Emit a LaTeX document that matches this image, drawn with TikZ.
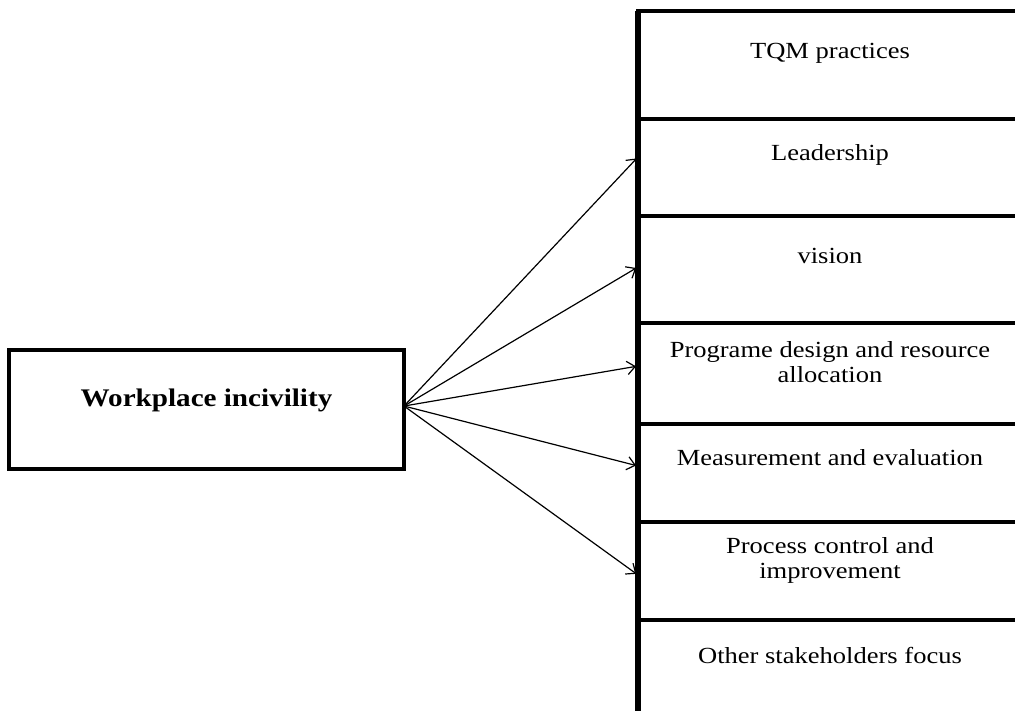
\documentclass[tikz,border=0pt]{standalone}
\usepackage{fontspec}
\setmainfont{Liberation Serif}[FakeStretch=1.15]
\usetikzlibrary{arrows.meta,calc}
\begin{document}
\begin{tikzpicture}[x=0.75pt,y=-0.75pt,
  cell/.style={draw, line width=2.6pt, outer sep=0pt, inner sep=0pt,
    minimum width=288pt, anchor=north west},
  txt/.style={align=center, inner sep=0pt, font=\fontsize{17.3}{18.75}\selectfont},
  mainbox/.style={draw, line width=3pt, outer sep=0pt, minimum width=296.25pt,
    minimum height=89.25pt},
  arr/.style={line width=0.9pt, -{Straight Barb[length=6pt,width=10pt,line width=0.9pt]}, shorten >=1.5pt}]
\useasboundingbox (0,0) rectangle (1015,711);
\fill[white] (0,0) rectangle (1015,711);
% right column cells
\node[cell, minimum height=81pt] (c1) at (638,11) {};
\node[cell, minimum height=72.75pt] (c2) at (c1.south west) {};
\node[cell, minimum height=80.25pt] (c3) at (c2.south west) {};
\node[cell, minimum height=75.75pt] (c4) at (c3.south west) {};
\node[cell, minimum height=73.5pt] (c5) at (c4.south west) {};
\node[cell, minimum height=73.5pt] (c6) at (c5.south west) {};
\node[cell, minimum height=82.5pt] (c7) at (c6.south west) {};
\draw[line width=3.8pt] (c1.north west) -- (c7.south west);
% texts
\node[txt] (t1) at (830,53) {TQM practices};
\node[txt] (t2) at (830,155) {Leadership};
\node[txt] (t3) at (830,256) {vision};
\node[txt] (t4) at (830,362) {Programe design and resource\\allocation};
\node[txt] (t5) at (830,458) {Measurement and evaluation};
\node[txt] (t6) at (830,560) {Process control and\\improvement};
\node[txt] (t7) at (830,655) {Other stakeholders focus};
% left box
\node[mainbox] (w) at (206.5,409.5) {};
\node[font=\fontsize{19}{22}\selectfont\bfseries, inner sep=0pt] (wt) at (206.5,400) {Workplace incivility};
% arrows
\coordinate (o) at ([yshift=2.6pt]w.east);
\draw[arr] (o) -- ([yshift=7.9pt]c2.west);
\draw[arr] (o) -- ([yshift=1.9pt]c3.west);
\draw[arr] (o) -- ([yshift=5.6pt]c4.west);
\draw[arr] (o) -- ([yshift=5.25pt]c5.west);
\draw[arr] (o) -- ([yshift=-3pt]c6.west);
\end{tikzpicture}
\end{document}
